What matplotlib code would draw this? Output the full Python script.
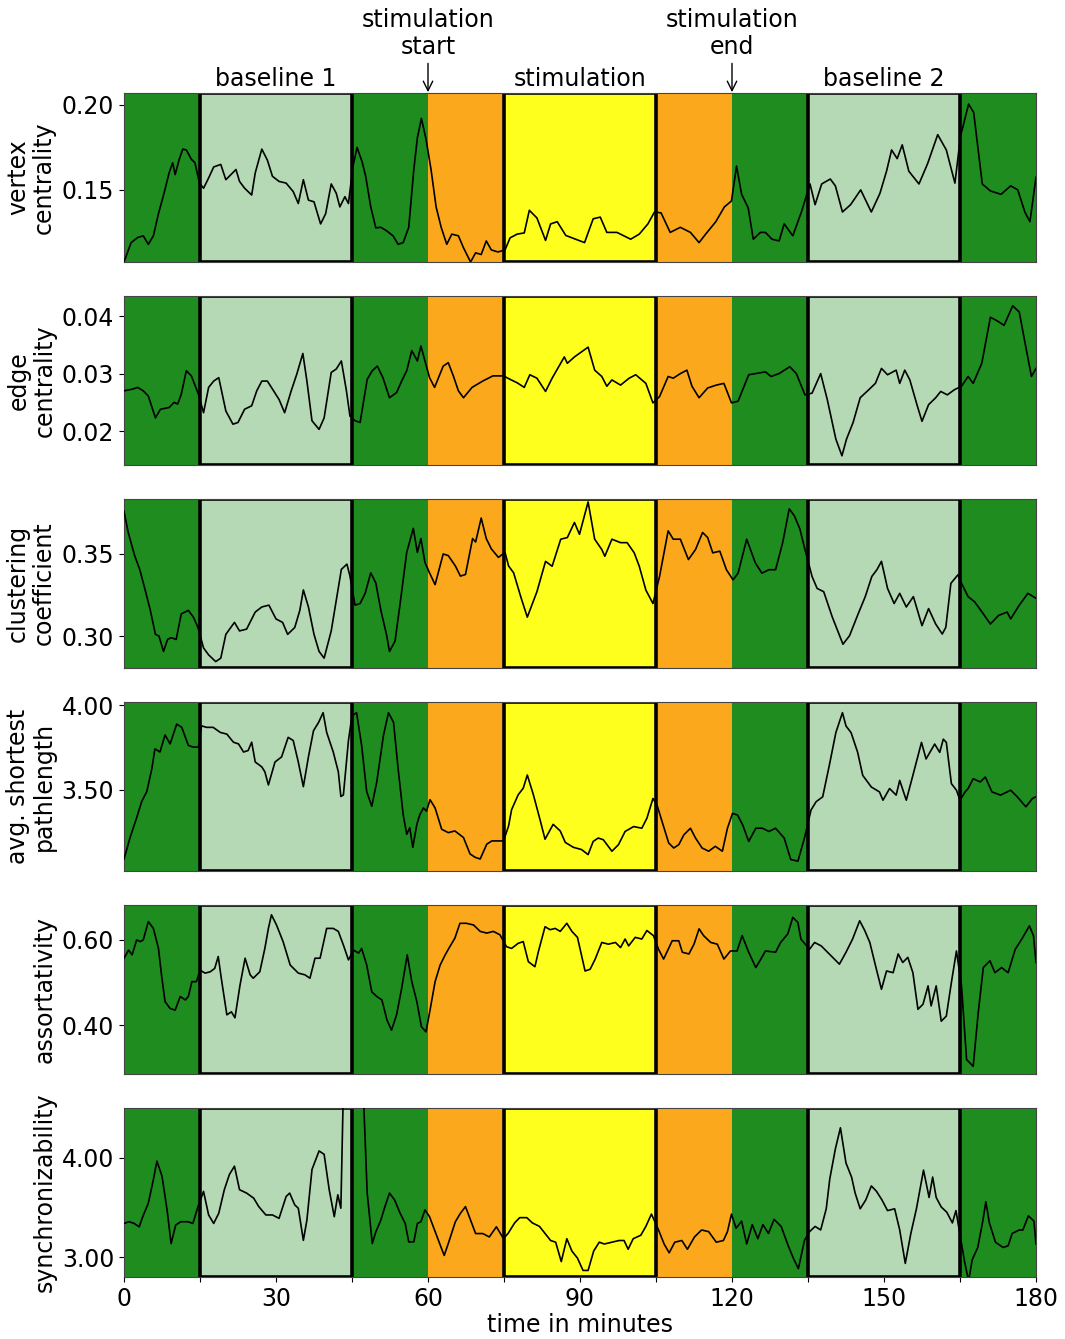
import numpy as np
import matplotlib as mpl
mpl.use('Agg')
import matplotlib.pyplot as plt
from matplotlib.ticker import FormatStrFormatter

# phases (minutes)
phase_start = [0, 15, 45, 60, 75, 105, 120, 135, 165]
phase_end = [15, 45, 60, 75, 105, 120, 135, 165, 180]
phase_color = ['#1e8c1e', '#b4d9b4', '#1e8c1e', '#fca81c', '#ffff1e',
               '#fca81c', '#1e8c1e', '#b4d9b4', '#1e8c1e']
phase_boxed = [False, True, False, False, True, False, False, True, False]

# vertex centrality
t_vc = [0, 1.4, 2.7, 3.8, 4.8, 5.8, 6.8, 7.9, 8.9, 9.6, 10.1, 10.9, 11.6, 12.3, 13.3, 14, 14.9,
        15.7, 16.7, 17.7, 19.1, 20.1, 21.1, 22.1, 22.8, 23.8, 25.2, 25.9, 27.2, 28.3, 29.3, 30.6,
        32, 33.4, 34.4, 35.4, 36.4, 37.5, 38.8, 39.8, 40.9, 41.9, 42.6, 43.6, 44.3, 45.2, 46, 47,
        47.7, 48.7, 49.7, 50.7, 51.8, 53.1, 54.1, 55.1, 56.2, 57.2, 57.9, 58.7, 59.6, 60.6, 61.6,
        62.6, 63.7, 64.7, 66, 67, 68.4, 69.4, 70.5, 71.5, 72.5, 73.8, 75.2, 76.2, 77.6, 79, 80,
        81.5, 83.2, 84.2, 85.5, 87.2, 88.9, 90.9, 92.6, 94, 95.3, 97.3, 100, 101.7, 103.4, 104.7,
        106, 107.8, 109.8, 111.8, 113.5, 114.8, 116.8, 118.5, 119.9, 120.9, 121.9, 123.2, 124.2,
        125.6, 126.6, 127.9, 129.3, 130.3, 132, 133.7, 135.4, 136.4, 137.7, 139.4, 140.4, 141.8,
        143.4, 145.4, 147.5, 149.2, 150.5, 151.5, 152.6, 153.6, 154.9, 156.9, 158.6, 160.6, 162.3,
        164, 165.1, 166.7, 167.7, 169.4, 171, 173.1, 175, 176.4, 177.8, 178.8, 180]
v_vc = [0.1076, 0.119, 0.122, 0.123, 0.118, 0.123, 0.136, 0.148, 0.160, 0.166, 0.159, 0.168,
        0.174, 0.1735, 0.168, 0.166, 0.154, 0.151, 0.157, 0.1635, 0.165, 0.156, 0.159, 0.162,
        0.155, 0.151, 0.147, 0.160, 0.174, 0.1675, 0.158, 0.155, 0.154, 0.149, 0.142, 0.156,
        0.144, 0.143, 0.130, 0.136, 0.1535, 0.148, 0.140, 0.146, 0.142, 0.164, 0.175, 0.1665,
        0.158, 0.140, 0.1277, 0.128, 0.126, 0.123, 0.118, 0.119, 0.128, 0.162, 0.1806, 0.192,
        0.180, 0.162, 0.140, 0.128, 0.118, 0.124, 0.123, 0.116, 0.1076, 0.113, 0.112, 0.120,
        0.1147, 0.1135, 0.1147, 0.1218, 0.124, 0.1247, 0.138, 0.1335, 0.1203, 0.130, 0.1313,
        0.1232, 0.1213, 0.119, 0.133, 0.134, 0.125, 0.125, 0.121, 0.124, 0.130, 0.137, 0.1365,
        0.125, 0.128, 0.125, 0.119, 0.124, 0.1313, 0.140, 0.1435, 0.164, 0.1474, 0.1394, 0.121,
        0.125, 0.125, 0.121, 0.120, 0.130, 0.123, 0.137, 0.1535, 0.1413, 0.1535, 0.1564, 0.1524,
        0.137, 0.1413, 0.150, 0.137, 0.148, 0.161, 0.1735, 0.1684, 0.1765, 0.161, 0.1535, 0.1654,
        0.1825, 0.1735, 0.154, 0.1815, 0.2005, 0.1955, 0.1535, 0.1494, 0.1474, 0.1524, 0.150,
        0.137, 0.1313, 0.1574]

# edge centrality
t_ec = [0, 1.7, 2.7, 3.8, 4.8, 6.2, 7.2, 8.9, 9.9, 10.6, 11.3, 12.3, 13.3, 14.7, 15.7, 16.7,
        17.7, 18.7, 20.1, 21.5, 22.5, 23.8, 25.2, 26.2, 27.2, 28.3, 29.3, 30.6, 31.7, 33, 34.1,
        35.3, 36.1, 37.1, 38.5, 39.5, 40.9, 41.9, 42.9, 43.9, 44.6, 45.6, 46.6, 48, 49, 50, 51.1,
        52.4, 53.8, 54.8, 55.8, 56.8, 57.9, 58.6, 59.4, 60.3, 61.3, 63, 64, 65, 66, 67, 68.7,
        70.8, 72.8, 74.9, 76.2, 77.6, 79, 80.1, 81.5, 83.2, 84.5, 86.9, 87.5, 88.9, 91.6, 92.9,
        94.3, 95.3, 96.3, 98, 99.7, 101, 103, 104.4, 105.7, 107.4, 108.4, 109.8, 111.1, 112.1,
        113.5, 115.2, 116.9, 118.4, 119.9, 121.2, 123.3, 124.6, 126.6, 127.7, 129.3, 131.4, 132.7,
        134.4, 135.8, 137.5, 138.8, 140.5, 141.7, 142.6, 143.9, 145.3, 147, 148.3, 149.5, 150.7,
        152.4, 153.1, 154.1, 155.1, 156.5, 157.5, 158.8, 160.2, 161.2, 162.5, 163.9, 165.3, 166.6,
        167.6, 169.3, 171, 172.3, 173.7, 175.4, 176.7, 177.8, 179.1, 180]
v_ec = [0.027, 0.0273, 0.0276, 0.027, 0.0261, 0.0223, 0.0238, 0.0241, 0.025, 0.0247, 0.0264,
        0.0305, 0.0296, 0.0264, 0.0232, 0.0276, 0.0287, 0.0293, 0.0235, 0.0212, 0.0215, 0.0238,
        0.0244, 0.027, 0.0287, 0.0287, 0.0273, 0.0255, 0.0232, 0.027, 0.0299, 0.0335, 0.0287,
        0.0218, 0.0203, 0.0223, 0.0302, 0.0308, 0.0322, 0.027, 0.0226, 0.0218, 0.0215, 0.029,
        0.0305, 0.0313, 0.0293, 0.0258, 0.0267, 0.0287, 0.0305, 0.034, 0.0322, 0.0348, 0.0322,
        0.0293, 0.0276, 0.0313, 0.0319, 0.0296, 0.027, 0.0258, 0.0276, 0.0287, 0.0296, 0.0296,
        0.029, 0.0284, 0.0276, 0.0298, 0.0292, 0.0269, 0.0292, 0.0329, 0.0318, 0.0329, 0.0346,
        0.0306, 0.0295, 0.0278, 0.0289, 0.028, 0.0292, 0.0298, 0.0283, 0.0249, 0.026, 0.0295,
        0.0292, 0.030, 0.0306, 0.0278, 0.0258, 0.0275, 0.028, 0.0283, 0.0249, 0.0252, 0.0298,
        0.030, 0.0303, 0.0295, 0.030, 0.0312, 0.030, 0.0263, 0.0266, 0.030, 0.0255, 0.0186,
        0.0157, 0.0186, 0.0215, 0.0258, 0.0272, 0.0283, 0.0309, 0.0298, 0.0306, 0.0283, 0.0306,
        0.0289, 0.0246, 0.0217, 0.0246, 0.0258, 0.0269, 0.0263, 0.0272, 0.0278, 0.0295, 0.0283,
        0.0318, 0.0398, 0.0392, 0.0384, 0.0418, 0.0407, 0.0355, 0.0295, 0.0309]

# clustering coefficient
t_cc = [0, 0.8, 2.1, 3.1, 4.1, 5.2, 6.2, 6.9, 7.8, 8.6, 9.3, 10.3, 11.3, 12.7, 13.7, 14.6, 15.7,
        16.7, 18.1, 19.1, 20.1, 21.8, 22.8, 24.2, 25.9, 27.2, 28.6, 30, 31.3, 32.3, 33.7, 34.7,
        35.4, 36.4, 37.5, 38.5, 39.5, 40.9, 41.9, 42.9, 44, 44.6, 45.6, 46.6, 47.6, 48.7, 49.7,
        50.7, 51.8, 52.4, 53.5, 54.5, 55.8, 57.1, 57.9, 58.6, 59.4, 60.3, 61.4, 63, 64, 65.4,
        66.4, 67.4, 68.8, 69.4, 70.5, 71.5, 72.5, 73.9, 75.2, 75.9, 76.9, 78.3, 79.6, 81.5, 83.2,
        84.5, 86.2, 87.5, 88.9, 89.9, 91.6, 92.9, 94.3, 94.9, 96.3, 98, 99.3, 100.7, 101.7, 103,
        104.4, 105.7, 107.4, 108.4, 109.8, 111.4, 112.8, 114.2, 115.2, 116.2, 117.6, 118.9, 120.2,
        121.2, 122.9, 124.6, 125.9, 127.3, 128.6, 130, 131.3, 132.3, 133.4, 134.4, 135.8, 136.8,
        138.1, 139.8, 141.9, 143.2, 144.9, 146.3, 147.6, 148.6, 149.5, 150.7, 152, 153.1, 154.4,
        155.8, 157.5, 158.8, 160.2, 161.5, 162.2, 163.2, 164.6, 165.3, 166.6, 167.9, 169.6, 171,
        172.6, 174.3, 175, 176.7, 178.4, 180]
v_cc = [0.376, 0.3635, 0.349, 0.3406, 0.329, 0.3156, 0.301, 0.300, 0.2906, 0.2979, 0.299,
        0.2979, 0.3135, 0.3156, 0.3115, 0.3052, 0.2927, 0.2885, 0.2844, 0.2865, 0.301, 0.3083,
        0.3031, 0.3042, 0.3146, 0.3177, 0.3188, 0.3104, 0.3083, 0.301, 0.3052, 0.3156, 0.3281,
        0.3177, 0.301, 0.2906, 0.2865, 0.3031, 0.3219, 0.3406, 0.3438, 0.3365, 0.3188, 0.3198,
        0.326, 0.3385, 0.3323, 0.3156, 0.301, 0.2906, 0.2969, 0.3198, 0.351, 0.3656, 0.351,
        0.3594, 0.3448, 0.3385, 0.3313, 0.35, 0.349, 0.3427, 0.3365, 0.3375, 0.3594, 0.3573,
        0.3719, 0.3594, 0.3531, 0.3479, 0.351, 0.3427, 0.3385, 0.324, 0.3115, 0.327, 0.3455,
        0.3425, 0.359, 0.36, 0.3692, 0.362, 0.3817, 0.359, 0.3527, 0.3486, 0.359, 0.3569, 0.3569,
        0.3507, 0.3425, 0.328, 0.3198, 0.3363, 0.3641, 0.359, 0.359, 0.3466, 0.3527, 0.3631,
        0.36, 0.3507, 0.3517, 0.3404, 0.3342, 0.3383, 0.359, 0.3446, 0.3383, 0.3404, 0.3404,
        0.3569, 0.3775, 0.3733, 0.3652, 0.3527, 0.3363, 0.329, 0.327, 0.3115, 0.295, 0.3002,
        0.3135, 0.324, 0.3363, 0.3404, 0.3455, 0.329, 0.3198, 0.326, 0.3177, 0.324, 0.3063,
        0.3167, 0.3073, 0.3012, 0.3053, 0.3321, 0.3373, 0.3321, 0.324, 0.3208, 0.3135, 0.3073,
        0.3125, 0.3146, 0.3104, 0.3188, 0.326, 0.323]

# avg. shortest pathlength
t_sp = [0, 1.2, 2.5, 3.5, 4.5, 5.5, 6.1, 7.1, 8.1, 9.1, 10.4, 11.4, 12.7, 13.7, 14.7, 15.3,
        16.3, 17.6, 19, 20.3, 21.6, 22.6, 23.6, 24.5, 25.2, 25.9, 27.2, 27.8, 28.5, 29.8, 31.1,
        32.4, 33.4, 34.4, 35.4, 36.4, 37.4, 38.4, 39.3, 40, 41.3, 42.3, 42.8, 43.3, 44.3, 45,
        45.9, 46.9, 47.9, 48.9, 49.9, 51.2, 52.2, 53.2, 54.1, 55.1, 55.8, 56.4, 57, 57.8, 58.4,
        59.1, 59.7, 60.4, 61.4, 62.7, 64, 65.3, 67, 68.3, 69.3, 70.3, 71.6, 72.6, 73.9, 74.9,
        75.9, 76.5, 77.8, 78.8, 79.6, 80.8, 82.1, 83.1, 84.7, 86.1, 87.1, 88.7, 90.3, 91.6, 92.6,
        93.6, 94.6, 96.3, 97.6, 98.9, 100.6, 102.2, 103.2, 104.4, 105.2, 106.2, 107.5, 108.5,
        109.5, 110.5, 111.8, 112.8, 114.1, 115.4, 116.7, 118.1, 119.1, 120.1, 121.1, 122.1,
        123.3, 124.7, 126, 127.3, 128.6, 130.3, 131.6, 133, 134.3, 135.6, 136.6, 137.9, 139.2,
        140.5, 141.8, 142.5, 143.5, 144.8, 145.8, 147.5, 149.1, 149.8, 151.1, 152.4, 153.1,
        154.4, 155.7, 157.4, 158.3, 160, 161, 161.7, 162.3, 163.3, 164.3, 165, 166, 166.6,
        167.6, 169, 170, 171.3, 173, 175, 176.3, 178, 179.3, 180]
v_sp = [3.091, 3.218, 3.335, 3.432, 3.49, 3.626, 3.743, 3.724, 3.825, 3.772, 3.889, 3.870,
        3.763, 3.753, 3.753, 3.879, 3.87, 3.87, 3.84, 3.83, 3.782, 3.772, 3.724, 3.733, 3.782,
        3.665, 3.636, 3.607, 3.529, 3.665, 3.695, 3.811, 3.792, 3.665, 3.519, 3.695, 3.85,
        3.899, 3.957, 3.84, 3.724, 3.607, 3.461, 3.47, 3.792, 3.938, 3.957, 3.763, 3.49, 3.403,
        3.549, 3.821, 3.957, 3.899, 3.626, 3.354, 3.237, 3.276, 3.16, 3.296, 3.354, 3.393,
        3.374, 3.442, 3.393, 3.267, 3.247, 3.257, 3.218, 3.121, 3.101, 3.091, 3.179, 3.198,
        3.198, 3.198, 3.286, 3.383, 3.471, 3.51, 3.588, 3.471, 3.325, 3.208, 3.296, 3.257,
        3.189, 3.16, 3.147, 3.117, 3.195, 3.215, 3.205, 3.137, 3.176, 3.254, 3.283, 3.273,
        3.332, 3.449, 3.41, 3.313, 3.186, 3.156, 3.176, 3.234, 3.273, 3.215, 3.156, 3.137,
        3.166, 3.137, 3.273, 3.361, 3.351, 3.293, 3.195, 3.273, 3.273, 3.254, 3.273, 3.215,
        3.088, 3.078, 3.215, 3.381, 3.43, 3.459, 3.644, 3.839, 3.957, 3.878, 3.839, 3.722,
        3.586, 3.517, 3.488, 3.439, 3.508, 3.469, 3.556, 3.439, 3.586, 3.781, 3.683, 3.771,
        3.722, 3.8, 3.781, 3.537, 3.498, 3.439, 3.488, 3.508, 3.566, 3.547, 3.576, 3.488,
        3.469, 3.498, 3.459, 3.4, 3.449, 3.459]

# assortativity
t_as = [0, 0.9, 1.6, 2.5, 3.2, 3.8, 4.8, 5.8, 6.8, 7.4, 8.1, 9.1, 10.1, 11.1, 12.1, 12.7, 13.4,
        14.3, 15, 16, 17, 17.9, 18.6, 19.2, 20.3, 21.2, 21.9, 22.9, 23.9, 24.9, 25.5, 26.8,
        27.8, 28.5, 29.1, 30.1, 31.4, 32.8, 34.4, 35.7, 36.7, 37.7, 38.7, 40, 41.3, 42.3, 43.3,
        44.3, 45.3, 46.3, 46.9, 47.9, 48.9, 49.9, 50.9, 51.9, 52.8, 53.8, 54.8, 55.9, 56.8,
        57.8, 58.7, 59.6, 60.4, 61.4, 62.4, 63.4, 64.3, 65.3, 66.3, 67.6, 69, 70.3, 71.6, 72.9,
        74.2, 75.5, 76.5, 77.8, 78.8, 79.8, 81.1, 81.8, 83.1, 84.1, 85.1, 86.1, 87.4, 88.4,
        89.5, 91, 92, 93, 94.3, 95.6, 97, 98, 98.9, 99.6, 100.9, 102.2, 103.2, 104.5, 105.5,
        106.5, 108.2, 109.5, 110.2, 111.5, 112.5, 113.5, 114.4, 115.8, 117.1, 118.4, 119.7, 121,
        122, 123.3, 124.7, 125.7, 126.6, 128.6, 129.6, 131, 132, 133, 133.6, 135.3, 136.3,
        137.6, 139.2, 141.2, 142.5, 143.8, 145.2, 146.2, 147.2, 148.5, 149.5, 150.5, 151.8,
        152.8, 153.7, 154.7, 155.7, 156.7, 157.7, 158.7, 159.3, 160.3, 161.3, 162.3, 163.3,
        164.3, 165.3, 166.3, 167.6, 168.6, 169.6, 170.9, 171.9, 173.2, 174.5, 175.9, 177.2,
        178.7, 179.5, 180]
v_as = [0.557, 0.576, 0.565, 0.6, 0.596, 0.6, 0.643, 0.627, 0.58, 0.518, 0.455, 0.439, 0.435,
        0.467, 0.459, 0.467, 0.502, 0.502, 0.529, 0.522, 0.525, 0.533, 0.561, 0.51, 0.424,
        0.431, 0.417, 0.494, 0.557, 0.518, 0.51, 0.525, 0.58, 0.627, 0.659, 0.635, 0.596,
        0.541, 0.522, 0.518, 0.51, 0.557, 0.557, 0.627, 0.627, 0.62, 0.588, 0.553, 0.576,
        0.569, 0.58, 0.541, 0.478, 0.467, 0.459, 0.412, 0.388, 0.424, 0.486, 0.565, 0.502,
        0.455, 0.396, 0.384, 0.435, 0.502, 0.541, 0.565, 0.584, 0.604, 0.639, 0.639, 0.635,
        0.62, 0.616, 0.62, 0.612, 0.584, 0.58, 0.592, 0.596, 0.549, 0.537, 0.573, 0.631,
        0.624, 0.627, 0.62, 0.639, 0.62, 0.606, 0.527, 0.531, 0.555, 0.594, 0.59, 0.594,
        0.582, 0.602, 0.586, 0.606, 0.602, 0.622, 0.61, 0.578, 0.555, 0.598, 0.598, 0.571,
        0.567, 0.59, 0.626, 0.61, 0.594, 0.59, 0.555, 0.574, 0.574, 0.61, 0.571, 0.535,
        0.555, 0.574, 0.571, 0.594, 0.614, 0.653, 0.641, 0.602, 0.578, 0.594, 0.586, 0.567,
        0.543, 0.571, 0.602, 0.645, 0.622, 0.594, 0.531, 0.484, 0.527, 0.523, 0.567, 0.547,
        0.559, 0.523, 0.437, 0.449, 0.492, 0.445, 0.492, 0.409, 0.421, 0.5, 0.574, 0.492,
        0.319, 0.303, 0.429, 0.535, 0.551, 0.523, 0.535, 0.523, 0.578, 0.602, 0.633, 0.61,
        0.547]

# synchronizability (goes off the top of the panel just before and after minute 45)
t_sy = [0, 1, 2, 3, 3.7, 4.8, 5.8, 6.5, 7.5, 8.5, 9.3, 10.2, 11.2, 12.6, 13.6, 14.6, 15.7,
        16.7, 17.7, 18.7, 19.8, 20.8, 21.8, 22.8, 24.2, 25.6, 26.6, 28, 29.3, 30.6, 32, 32.7,
        33.7, 34.4, 35.4, 36.1, 37.1, 38.5, 39.5, 40.5, 41.5, 42.2, 42.8, 43.3, 45, 47.2, 48,
        49, 49.7, 50.7, 51.4, 52.4, 53.4, 54.5, 55.5, 56.2, 57.2, 57.9, 58.6, 59.4, 60.3,
        61.3, 62.3, 63.2, 64, 65.4, 66.4, 67.4, 68.4, 69.4, 70.8, 72.1, 73.5, 74.9, 75.8,
        77.1, 78.1, 79.5, 80.6, 82, 83.1, 84.2, 85.2, 86.3, 87.4, 88.4, 89.5, 90.6, 91.6,
        92.7, 93.8, 94.8, 96.3, 97.7, 98.7, 99.5, 100.5, 102, 103, 104.1, 105.5, 106.6, 107.6,
        108.7, 110.1, 111.2, 112.6, 114, 115.4, 116.9, 118.3, 119.1, 119.9, 120.8, 121.9,
        122.9, 124, 125.1, 126.1, 127.2, 128.3, 129.7, 131.1, 132.1, 133.1, 134.3, 135.3,
        136.4, 137.5, 138.6, 139.3, 140.4, 141.4, 142.5, 143.6, 144.3, 145.3, 146.4, 147.5,
        148.5, 149.6, 150.7, 152.1, 153.1, 154.2, 155.3, 156.4, 157.8, 158.9, 159.6, 160.3,
        161.3, 162.4, 163.5, 164.2, 165.2, 165.9, 166.7, 167.4, 168.5, 169.5, 170.1, 170.8,
        172, 173.5, 174.5, 175.3, 176.7, 177.4, 178.5, 179.6, 180]
v_sy = [3.339, 3.356, 3.339, 3.305, 3.407, 3.542, 3.78, 3.966, 3.814, 3.475, 3.136, 3.322,
        3.356, 3.356, 3.339, 3.508, 3.661, 3.424, 3.339, 3.441, 3.678, 3.831, 3.915, 3.678,
        3.644, 3.593, 3.508, 3.424, 3.424, 3.39, 3.61, 3.644, 3.525, 3.492, 3.169, 3.373,
        3.881, 4.068, 4.034, 3.678, 3.407, 3.627, 3.492, 4.7, 6.0, 4.7, 3.644, 3.136, 3.254,
        3.373, 3.492, 3.644, 3.576, 3.441, 3.339, 3.153, 3.153, 3.339, 3.356, 3.475, 3.407,
        3.271, 3.136, 3.017, 3.136, 3.356, 3.441, 3.508, 3.373, 3.237, 3.237, 3.203, 3.305,
        3.186, 3.238, 3.344, 3.397, 3.397, 3.344, 3.309, 3.238, 3.167, 3.15, 2.955, 3.185,
        3.061, 2.99, 2.866, 2.866, 3.061, 3.15, 3.132, 3.15, 3.167, 3.167, 3.079, 3.185, 3.22,
        3.309, 3.433, 3.273, 3.132, 3.043, 3.15, 3.167, 3.079, 3.203, 3.273, 3.256, 3.15,
        3.167, 3.256, 3.433, 3.291, 3.362, 3.132, 3.327, 3.185, 3.327, 3.238, 3.38, 3.309,
        3.114, 2.99, 2.884, 3.167, 3.256, 3.309, 3.273, 3.486, 3.787, 4.088, 4.301, 3.946,
        3.805, 3.645, 3.486, 3.575, 3.716, 3.663, 3.575, 3.468, 3.486, 3.273, 2.937, 3.238,
        3.486, 3.875, 3.6, 3.805, 3.6, 3.504, 3.451, 3.344, 3.468, 3.167, 2.955, 2.76, 2.972,
        3.097, 3.362, 3.557, 3.344, 3.15, 3.097, 3.114, 3.238, 3.273, 3.273, 3.415, 3.362,
        3.132]

series = [(t_vc, v_vc), (t_ec, v_ec), (t_cc, v_cc), (t_sp, v_sp), (t_as, v_as), (t_sy, v_sy)]
ylabels = ['vertex\ncentrality', 'edge\ncentrality', 'clustering\ncoefficient',
           'avg. shortest\npathlength', 'assortativity', 'synchronizability']
ylims = [(0.1076, 0.207), (0.0141, 0.0435), (0.2805, 0.3835), (3.02, 4.02), (0.285, 0.682), (2.8, 4.5)]
yticks = [[0.15, 0.20], [0.02, 0.03, 0.04], [0.30, 0.35], [3.5, 4.0], [0.4, 0.6], [3.0, 4.0]]

plt.rcParams['font.family'] = ['DejaVu Sans']
fs = 17

fig = plt.figure(figsize=(10.65, 13.39), dpi=100)
W, H = 1065.0, 1339.0
left, width = 124 / W, 912 / W
tops = [93, 296, 499, 702, 905, 1108]
ph = 169

axes = []
for k, top in enumerate(tops):
    ax = fig.add_axes([left, 1 - (top + ph) / H, width, ph / H])
    axes.append(ax)
    for s, e, c, boxed in zip(phase_start, phase_end, phase_color, phase_boxed):
        if boxed:
            ax.axvspan(s, e, facecolor=c, edgecolor='black', linewidth=2.6, zorder=1)
        else:
            ax.axvspan(s, e, facecolor=c, edgecolor='none', zorder=0.9)
    t, v = series[k]
    ax.plot(t, v, color='black', linewidth=1.2, zorder=3)
    ax.set_xlim(0, 180)
    ax.set_ylim(*ylims[k])
    ax.set_yticks(yticks[k])
    ax.yaxis.set_major_formatter(FormatStrFormatter('%.2f'))
    ax.set_ylabel(ylabels[k], fontsize=fs, linespacing=1.1)
    ax.tick_params(axis='both', labelsize=fs)
    ax.set_xticks(np.arange(0, 181, 15))
    for sp in ax.spines.values():
        sp.set_color('#444444')
    if k < 5:
        ax.tick_params(axis='x', bottom=False, labelbottom=False)
    else:
        ax.set_xticklabels([str(x) if x % 30 == 0 else '' for x in range(0, 181, 15)])
        ax.set_xlabel('time in minutes', fontsize=fs, labelpad=2)

fig.align_ylabels(axes)

ax = axes[0]
tr = ax.get_xaxis_transform()
for x, lab in [(30, 'baseline 1'), (90, 'stimulation'), (150, 'baseline 2')]:
    ax.text(x, 1.01, lab, transform=tr, ha='center', va='bottom', fontsize=fs)
for x, lab in [(60, 'stimulation\nstart'), (120, 'stimulation\nend')]:
    ax.annotate(lab, xy=(x, 1.005), xycoords=tr, xytext=(x, 1.2), textcoords=tr,
                ha='center', va='bottom', fontsize=fs, linespacing=1.15,
                arrowprops=dict(arrowstyle='->', color='black', lw=1.0, shrinkA=1, shrinkB=0))

plt.savefig('out.png', dpi=100)
